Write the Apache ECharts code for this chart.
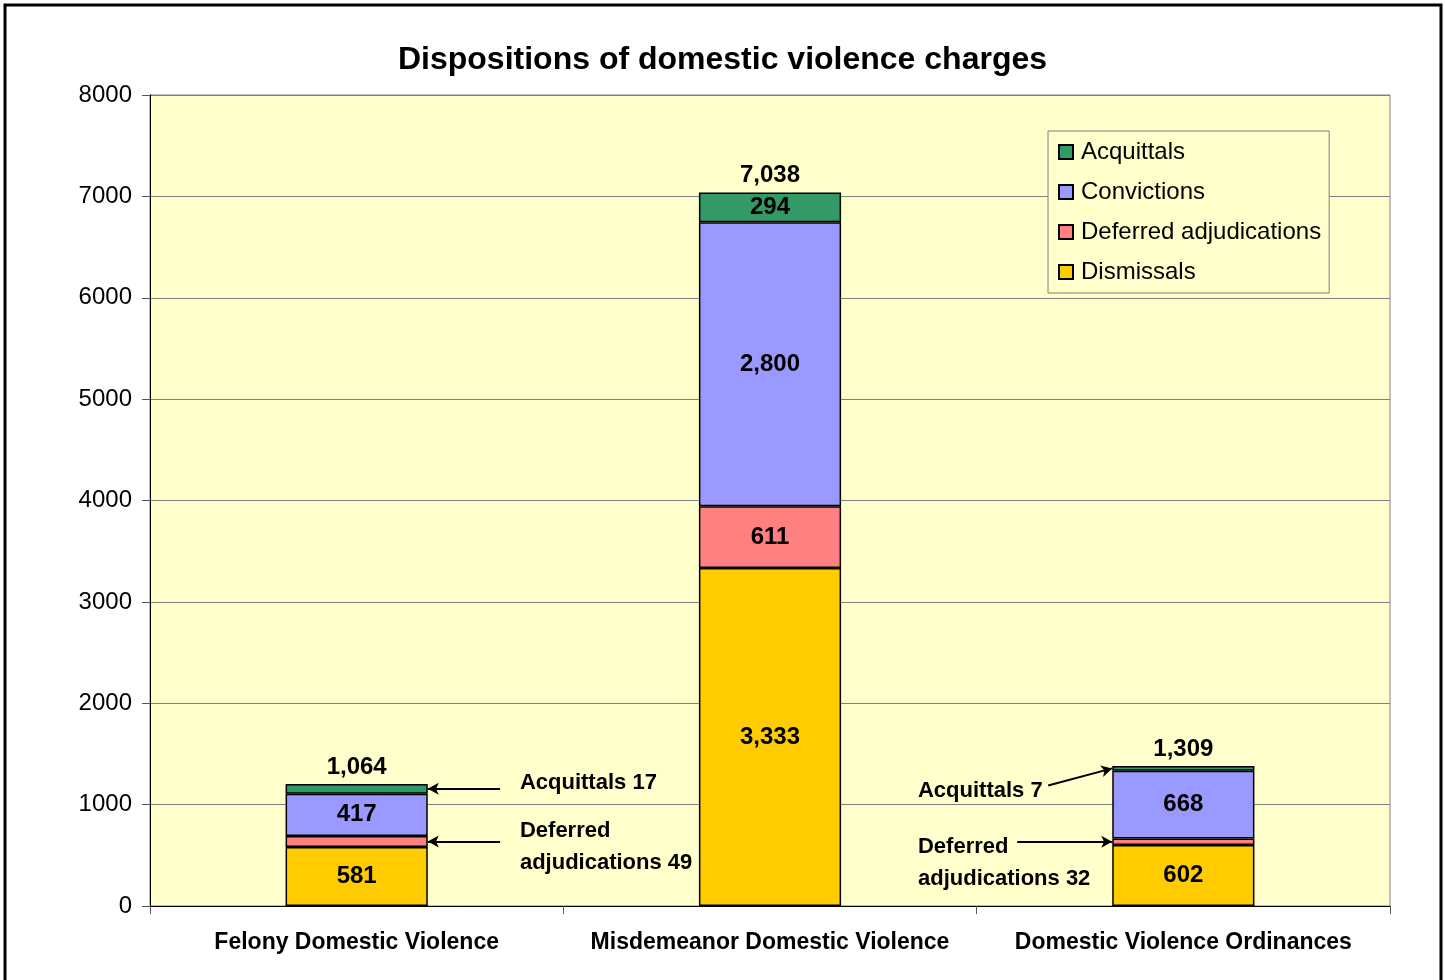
<!DOCTYPE html>
<html>
<head>
<meta charset="utf-8">
<script src="https://cdn.jsdelivr.net/npm/echarts@6/dist/echarts.min.js"></script>
<style>
  html, body { margin: 0; padding: 0; background: #fff; }
  #chart { width: 1445px; height: 980px; }
</style>
</head>
<body>
<div id="chart"></div>
<script>
// categories on the x axis
const categories = ["Felony Domestic Violence", "Misdemeanor Domestic Violence", "Domestic Violence Ordinances"];

// segment heights as drawn in the picture (bottom to top)
const dismissals = [581, 3333, 602];
const deferred = [110, 611, 65];
const convictions = [417, 2800, 668];
const acquittals = [95, 294, 45];

// numbers printed on the chart
const dismissalsText = [581, 3333, 602];
const deferredText = [49, 611, 32];
const convictionsText = [417, 2800, 668];
const acquittalsText = [17, 294, 7];

// y axis ticks
const yMin = 0;
const yMax = 8000;
const yStep = 1000;

const FONT = "Liberation Sans, Arial, sans-serif";
const fmt = (v) => v.toLocaleString("en-US");

// drawn totals (for placing the total labels) and printed totals
const drawnTotal = categories.map((c, i) => dismissals[i] + deferred[i] + convictions[i] + acquittals[i]);
const printedTotal = categories.map((c, i) => dismissalsText[i] + deferredText[i] + convictionsText[i] + acquittalsText[i]);

// mid point of the thin segments, used for the arrows
const accMid = categories.map((c, i) => dismissals[i] + deferred[i] + convictions[i] + acquittals[i] / 2);
const defMid = categories.map((c, i) => dismissals[i] + deferred[i] / 2);

const halfBar = 0.172; // half of bar width, in category units
const felRight = 0.5 + halfBar;
const ordLeft = 2.5 - halfBar;

function barSeries(name, values, texts, color) {
  return {
    name: name,
    type: "bar",
    stack: "total",
    barWidth: "34.4%",
    data: values,
    itemStyle: { color: color, borderColor: "#000", borderWidth: 1.5 },
    label: {
      show: true,
      position: "inside",
      color: "#000",
      fontFamily: FONT,
      fontWeight: "bold",
      fontSize: 24,
      textBorderWidth: 0,
      // small segments are explained by the arrow notes instead
      formatter: (p) => (texts[p.dataIndex] >= 100 ? fmt(texts[p.dataIndex]) : ""),
    },
    emphasis: { disabled: true },
  };
}

const noteStyle = {
  show: true,
  color: "#000",
  fontFamily: FONT,
  fontWeight: "bold",
  fontSize: 22,
  lineHeight: 32,
  align: "left",
  verticalAlign: "middle",
  position: "right",
  distance: 0,
};
const note = (x, y, text) => ({ value: [x, y], label: Object.assign({}, noteStyle, { formatter: text }) });

const chart = echarts.init(document.getElementById("chart"));

const option = {
  animation: false,
  title: {
    text: "Dispositions of domestic violence charges",
    left: "center",
    top: 39,
    textStyle: { fontFamily: FONT, fontWeight: "bold", fontSize: 32, color: "#000" },
  },
  legend: {
    orient: "vertical",
    left: 1048,
    top: 131,
    data: ["Acquittals", "Convictions", "Deferred adjudications", "Dismissals"],
    icon: "rect",
    itemWidth: 14,
    itemHeight: 14,
    itemGap: 16,
    padding: [9, 8, 9, 10],
    backgroundColor: "#FFFFCC",
    borderColor: "#808080",
    borderWidth: 1,
    textStyle: { fontFamily: FONT, fontSize: 24, color: "#000", padding: [0, 0, 0, 3] },
    selectedMode: false,
  },
  graphic: [
    {
      type: "rect",
      shape: { x: 5, y: 5, width: 1436, height: 1000 },
      style: { fill: "none", stroke: "#000", lineWidth: 3 },
      silent: true,
      z: 100,
    },
  ],
  grid: {
    left: 150,
    right: 55,
    top: 95,
    bottom: 74,
    show: true,
    backgroundColor: "#FFFFCC",
    borderColor: "#808080",
    borderWidth: 1,
  },
  xAxis: [
    {
      type: "category",
      data: categories,
      axisLine: { lineStyle: { color: "#000", width: 1 } },
      axisTick: { show: true, length: 8, lineStyle: { color: "#555" } },
      axisLabel: {
        interval: 0,
        color: "#000",
        fontFamily: FONT,
        fontWeight: "bold",
        fontSize: 23,
        margin: 25,
      },
    },
    // hidden value axis for the arrow notes
    { type: "value", min: 0, max: 3, show: false },
  ],
  yAxis: {
    type: "value",
    min: yMin,
    max: yMax,
    interval: yStep,
    axisLine: { show: true, lineStyle: { color: "#000" } },
    axisTick: { show: true, length: 8, lineStyle: { color: "#555" } },
    axisLabel: { color: "#000", fontFamily: FONT, fontSize: 24, margin: 18, formatter: (v) => String(v) },
    splitLine: { lineStyle: { color: "#808080", width: 1 } },
  },
  series: [
    barSeries("Dismissals", dismissals, dismissalsText, "#FFCC00"),
    barSeries("Deferred adjudications", deferred, deferredText, "#FF8080"),
    barSeries("Convictions", convictions, convictionsText, "#9999FF"),
    barSeries("Acquittals", acquittals, acquittalsText, "#339966"),
    {
      // totals above each bar
      name: "total",
      type: "scatter",
      data: drawnTotal,
      symbolSize: 0,
      silent: true,
      itemStyle: { opacity: 1 },
      label: {
        show: true,
        position: "top",
        distance: 5,
        color: "#000",
        fontFamily: FONT,
        fontWeight: "bold",
        fontSize: 24,
        formatter: (p) => fmt(printedTotal[p.dataIndex]),
      },
    },
    {
      // arrow notes for the thin segments
      name: "notes",
      type: "scatter",
      xAxisIndex: 1,
      symbolSize: 0,
      silent: true,
      itemStyle: { opacity: 1 },
      data: [
        note(felRight + 0.223, accMid[0] + 60, "Acquittals " + acquittalsText[0]),
        note(felRight + 0.223, defMid[0] - 50, "Deferred\nadjudications " + deferredText[0]),
        note(ordLeft - 0.47, accMid[2] - 225, "Acquittals " + acquittalsText[2]),
        note(ordLeft - 0.47, defMid[2] - 207, "Deferred\nadjudications " + deferredText[2]),
      ],
      markLine: {
        silent: true,
        symbol: ["none", "arrow"],
        symbolSize: [9, 11],
        label: { show: false },
        lineStyle: { color: "#000", width: 2, type: "solid", opacity: 1 },
        data: [
          [{ coord: [felRight + 0.175, accMid[0]] }, { coord: [felRight, accMid[0]] }],
          [{ coord: [felRight + 0.175, defMid[0]] }, { coord: [felRight, defMid[0]] }],
          [{ coord: [ordLeft - 0.155, accMid[2] - 168] }, { coord: [ordLeft, accMid[2]] }],
          [{ coord: [ordLeft - 0.23, defMid[2]] }, { coord: [ordLeft, defMid[2]] }],
        ],
      },
    },
  ],
};

chart.setOption(option);
</script>
</body>
</html>
